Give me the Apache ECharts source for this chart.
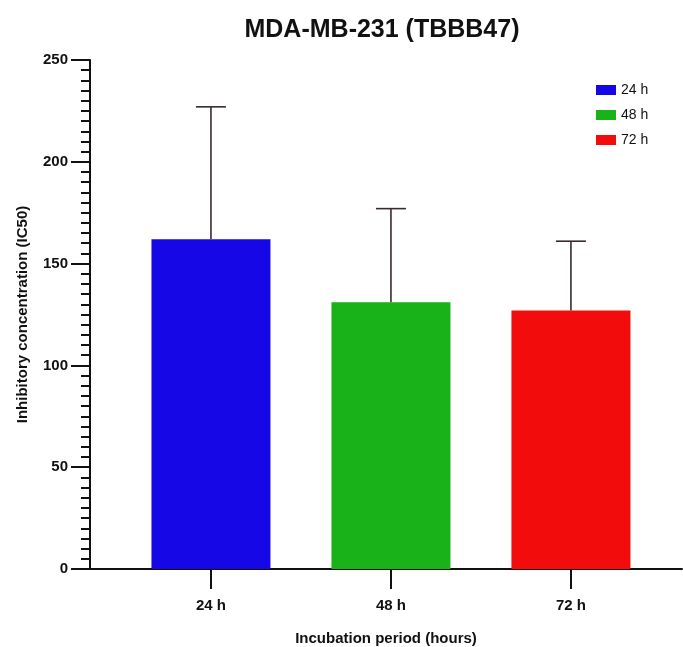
<!DOCTYPE html>
<html>
<head>
<meta charset="utf-8">
<script src="https://cdn.jsdelivr.net/npm/echarts@6/dist/echarts.min.js"></script>
<style>html,body{margin:0;padding:0;background:#fff}#c{width:683px;height:647px}</style>
</head>
<body>
<div id="c"></div>
<script>
var categories = ['24 h', '48 h', '72 h'];
var means = [162, 131, 127];
var upperErr = [227, 177, 161];
var colors = ['#1608e6', '#19b219', '#f20c0c'];
var yTicks = [0, 50, 100, 150, 200, 250];

var chart = echarts.init(document.getElementById('c'));
var font = 'Liberation Sans, Arial, sans-serif';

var series = categories.map(function (name, i) {
  return {
    name: name,
    type: 'bar',
    data: [[i, means[i]]],
    barWidth: 119,
    barGap: '-100%',
    itemStyle: { color: colors[i] },
    z: 2
  };
});

series.push({
  type: 'custom',
  name: 'err',
  z: 3,
  data: categories.map(function (c, i) { return [i, means[i], upperErr[i]]; }),
  renderItem: function (params, api) {
    var x = api.value(0);
    var p0 = api.coord([x, api.value(1)]);
    var p1 = api.coord([x, api.value(2)]);
    var hw = 15;
    return {
      type: 'group',
      children: [
        { type: 'line', shape: { x1: p0[0], y1: p0[1], x2: p1[0], y2: p1[1] }, style: { stroke: '#3a2a2e', lineWidth: 1.6 } },
        { type: 'line', shape: { x1: p1[0] - hw, y1: p1[1], x2: p1[0] + hw, y2: p1[1] }, style: { stroke: '#3a2a2e', lineWidth: 1.6 } }
      ]
    };
  }
});

chart.setOption({
  animation: false,
  backgroundColor: '#ffffff',
  title: {
    text: 'MDA-MB-231 (TBBB47)',
    left: 377, top: 13, textAlign: 'center',
    textStyle: { fontFamily: font, fontSize: 25, fontWeight: 'bold', color: '#111' }
  },
  legend: {
    data: categories,
    orient: 'vertical',
    left: 591, top: 78,
    icon: 'rect',
    itemWidth: 20, itemHeight: 10, itemGap: 11,
    textStyle: { fontFamily: font, fontSize: 14, color: '#111' }
  },
  grid: { left: 90, right: 1, top: 60, bottom: 78, outerBoundsMode: 'none', containLabel: false },
  xAxis: {
    type: 'value',
    min: -0.672, max: 2.617,
    name: 'Incubation period (hours)',
    nameLocation: 'middle',
    nameGap: 62,
    nameTextStyle: { fontFamily: font, fontSize: 15, fontWeight: 'bold', color: '#111' },
    axisLine: { show: true, onZero: false, lineStyle: { color: '#111', width: 2 } },
    axisTick: { show: true, customValues: [0, 1, 2], length: 20, lineStyle: { color: '#111', width: 2 } },
    axisLabel: {
      customValues: [0, 1, 2], margin: 29,
      formatter: function (v) { return categories[Math.round(v)]; },
      fontFamily: font, fontSize: 15, fontWeight: 'bold', color: '#111'
    },
    splitLine: { show: false }
  },
  yAxis: {
    type: 'value',
    min: 0, max: 250, interval: 50,
    name: 'Inhibitory concentration (IC50)',
    nameLocation: 'middle',
    nameGap: 60,
    nameTextStyle: { fontFamily: font, fontSize: 15, fontWeight: 'bold', color: '#111' },
    axisLine: { show: true, onZero: false, lineStyle: { color: '#111', width: 2 } },
    axisTick: { show: true, length: 19, lineStyle: { color: '#111', width: 2 } },
    minorTick: { show: true, splitNumber: 10, length: 9, lineStyle: { color: '#111', width: 2 } },
    axisLabel: {
      margin: 22,
      formatter: function (v) { return yTicks.indexOf(v) >= 0 ? String(v) : ''; },
      fontFamily: font, fontSize: 15, fontWeight: 'bold', color: '#111'
    },
    splitLine: { show: false }
  },
  series: series
});
</script>
</body>
</html>
